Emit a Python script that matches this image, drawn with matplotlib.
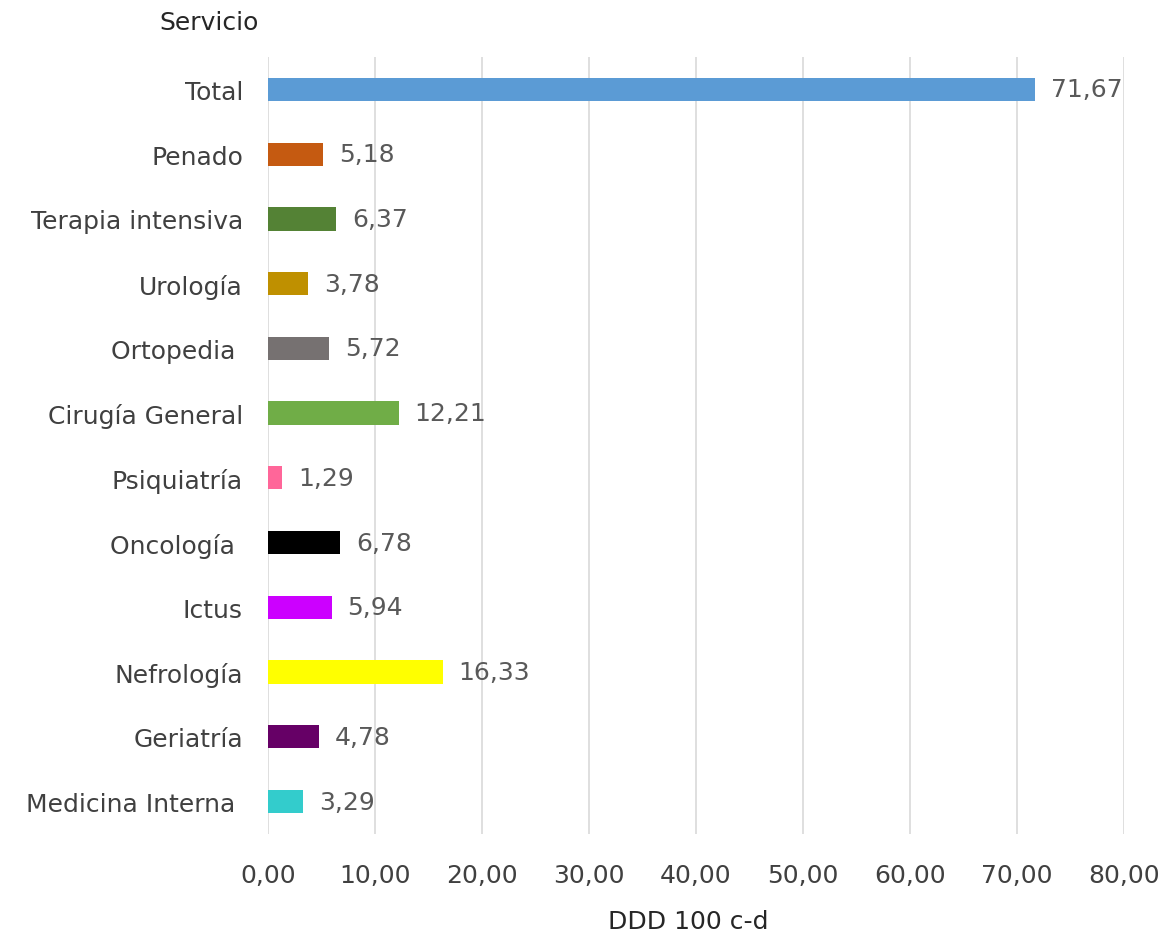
import matplotlib.pyplot as plt

servicios = ['Total', 'Penado', 'Terapia intensiva', 'Urología', 'Ortopedia ',
             'Cirugía General', 'Psiquiatría', 'Oncología ', 'Ictus', 'Nefrología',
             'Geriatría', 'Medicina Interna ']
valores = [71.67, 5.18, 6.37, 3.78, 5.72, 12.21, 1.29, 6.78, 5.94, 16.33, 4.78, 3.29]
colores = ['#5B9BD5', '#C55A11', '#548235', '#BF9000', '#767171', '#70AD47',
           '#FF6699', '#000000', '#CC00FF', '#FFFF00', '#660066', '#33CCCC']
ticks_x = [0, 10, 20, 30, 40, 50, 60, 70, 80]

plt.rcParams['font.family'] = ['DejaVu Sans']
fs = 18

fig = plt.figure(figsize=(11.66, 9.37), dpi=100)
ax = fig.add_axes([0.2298, 0.109, 0.7342, 0.829])

pos = list(range(len(servicios)))
ax.barh(pos, valores, height=0.36, color=colores, zorder=3)
ax.set_ylim(len(servicios) - 0.5, -0.5)
ax.set_xlim(0, 80)

# etiquetas de datos
for p, v in zip(pos, valores):
    ax.text(v + 1.5, p, f'{v:.2f}'.replace('.', ','), va='center', ha='left',
            fontsize=fs, color='#595959')

ax.set_yticks(pos)
ax.set_yticklabels(servicios, fontsize=fs, color='#404040')
ax.set_xticks(ticks_x)
ax.set_xticklabels([f'{t:.2f}'.replace('.', ',') for t in ticks_x], fontsize=fs, color='#404040')
ax.tick_params(length=0, pad=21, axis='x')
ax.tick_params(length=0, pad=18, axis='y')

ax.grid(axis='x', color='#D9D9D9', linewidth=1.2, zorder=0)
for s in ax.spines.values():
    s.set_visible(False)

fig.text(0.137, 0.975, 'Servicio', fontsize=fs, color='#262626', ha='left', va='center')
fig.text(0.59, 0.016, 'DDD 100 c-d', fontsize=fs, color='#262626', ha='center', va='center')

plt.savefig('out.png', dpi=100)
